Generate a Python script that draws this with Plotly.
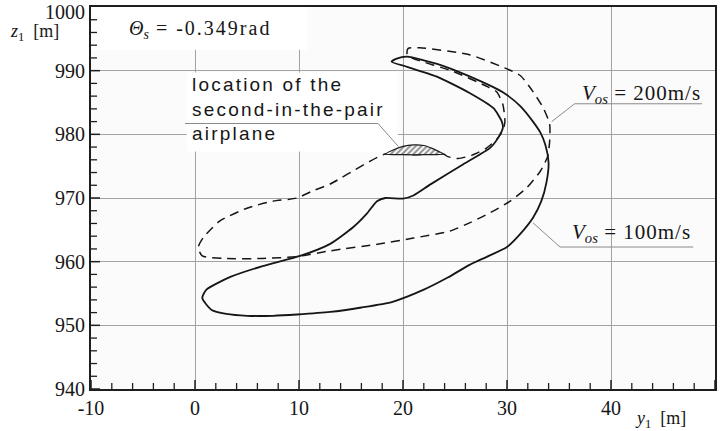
import plotly.graph_objects as go

# Boundary for V_os = 100 m/s (solid), closed contour in (y1, z1)
solid_y1 = [0.7, 1.6, 3.0, 5.0, 7.5, 9.8, 13.0, 16.0, 19.0, 22.0, 24.3, 26.4, 28.1,
            30.0, 31.3, 32.5, 33.3, 33.8, 34.0, 33.7, 33.2, 32.5, 31.3, 29.6, 26.4,
            23.2, 20.4, 19.4, 18.9, 20.4, 23.2, 26.4, 28.7, 29.5, 29.6, 29.2, 28.4,
            25.8, 22.6, 21.0, 20.0, 18.3, 17.5, 16.5, 15.2, 13.0, 10.1, 6.5, 3.4,
            1.1, 0.7]
solid_z1 = [954.3, 952.4, 951.8, 951.5, 951.5, 951.7, 952.1, 952.8, 953.7, 955.6,
            957.5, 959.5, 960.8, 962.3, 964.4, 966.9, 969.5, 972.5, 975.5, 978.3,
            980.3, 982.0, 984.4, 986.6, 989.1, 991.1, 992.2, 991.9, 991.4, 990.6,
            989.1, 986.5, 984.1, 982.0, 981.0, 979.6, 977.9, 975.3, 972.1, 970.4,
            969.9, 970.0, 969.5, 967.5, 965.4, 962.8, 960.9, 959.3, 957.6, 955.6,
            954.3]

# Boundary for V_os = 200 m/s (dashed), closed contour in (y1, z1)
dashed_y1 = [18.3, 16.2, 13.0, 11.3, 9.8, 7.5, 5.0, 2.4, 0.8, 0.3, 0.7, 2.7, 6.5,
             9.8, 13.0, 17.8, 21.0, 24.5, 26.4, 28.4, 30.3, 31.9, 33.2, 33.9, 34.1,
             34.1, 33.5, 32.5, 31.3, 30.1, 26.4, 21.6, 20.5, 20.4, 21.0, 24.8, 28.1,
             29.0, 29.6, 29.8, 29.6, 29.0, 28.0, 26.6, 25.3, 24.3, 23.9, 21.0, 18.3]
dashed_z1 = [976.9, 975.2, 972.2, 971.1, 970.0, 969.5, 968.4, 966.4, 963.8, 962.2,
             960.9, 960.5, 960.5, 960.8, 961.7, 962.8, 963.7, 964.8, 966.1, 967.7,
             969.5, 971.6, 974.2, 976.5, 978.9, 981.6, 984.1, 986.7, 989.2, 990.2,
             992.5, 993.6, 993.5, 992.5, 991.9, 989.9, 987.5, 986.7, 984.7, 982.0,
             980.6, 979.2, 977.8, 976.7, 976.2, 976.5, 976.9, 976.8, 976.9]

# Hatched zone: location of the second airplane of the pair
zone_y1 = [18.3, 19.0, 20.0, 21.0, 22.0, 22.8, 23.5, 23.9, 22.0, 20.0, 18.3]
zone_z1 = [976.9, 977.5, 978.1, 978.35, 978.25, 977.8, 977.25, 976.9, 976.8, 976.8, 976.9]

x_range = [-10, 50]
y_range = [940, 1000]
x_ticks = [-10, 0, 10, 20, 30, 40, 50]
x_labels = ["-10", "0", "10", "20", "30", "40", "50"]
x_minor = [v for v in range(-10, 51, 2) if v % 10]
y_ticks = [940, 950, 960, 970, 980, 990]
y_labels = ["940", "950", "960", "970", "980", "990"]
y_minor = [v for v in range(940, 1001, 2) if v % 10]

SERIF = "Liberation Serif, Times New Roman, serif"
SANS = "Liberation Sans, Arial, sans-serif"
INK = "#161616"
LEAD = "#8a8a8a"
AXIS = "#1e1e1e"

fig = go.Figure()

fig.add_trace(go.Scatter(
    x=dashed_y1, y=dashed_z1, mode="lines",
    line=dict(color=INK, width=1.5, dash="9px,6px", shape="spline", smoothing=0.6),
    hoverinfo="skip", showlegend=False))

fig.add_trace(go.Scatter(
    x=solid_y1, y=solid_z1, mode="lines",
    line=dict(color=INK, width=1.8, shape="spline", smoothing=0.6),
    hoverinfo="skip", showlegend=False))

fig.add_trace(go.Scatter(
    x=zone_y1, y=zone_z1, mode="lines", fill="toself", fillcolor="white",
    fillpattern=dict(shape="/", fgcolor="#1e1e1e", bgcolor="white", size=4, solidity=0.5),
    line=dict(color="#1e1e1e", width=1.2, shape="spline", smoothing=0.6),
    hoverinfo="skip", showlegend=False))

# white label panels that mask the grid behind the text
fig.add_shape(type="rect", x0=-10, x1=10.8, y0=993.3, y1=1000, layer="between",
              line=dict(width=0), fillcolor="white")
fig.add_shape(type="rect", x0=-0.8, x1=19.5, y0=977.3, y1=989.7, layer="between",
              line=dict(width=0), fillcolor="white")

# small inward tick marks along the left and bottom axes (pixel length)
for v in x_minor:
    fig.add_shape(type="line", xref="x", yref="paper", ysizemode="pixel", yanchor=0,
                  x0=v, x1=v, y0=0, y1=6, line=dict(color=AXIS, width=1.3))
for v in y_minor:
    fig.add_shape(type="line", xref="paper", yref="y", xsizemode="pixel", xanchor=0,
                  x0=0, x1=6, y0=v, y1=v, line=dict(color=AXIS, width=1.3))
for v in x_ticks:
    fig.add_shape(type="line", xref="x", yref="paper", ysizemode="pixel", yanchor=0,
                  x0=v, x1=v, y0=0, y1=9, line=dict(color=AXIS, width=1.5))
for v in y_ticks:
    fig.add_shape(type="line", xref="paper", yref="y", xsizemode="pixel", xanchor=0,
                  x0=0, x1=9, y0=v, y1=v, line=dict(color=AXIS, width=1.5))

# leader lines
for x0, y0, x1, y1 in [
    (-0.96, 981.7, 17.6, 981.7), (17.6, 981.7, 19.55, 978.1),
    (36.5, 984.8, 48.75, 984.8), (36.5, 984.8, 34.3, 982.0),
    (35.1, 962.3, 47.9, 962.3), (35.1, 962.3, 32.5, 966.1),
]:
    fig.add_shape(type="line", x0=x0, y0=y0, x1=x1, y1=y1,
                  line=dict(color=LEAD, width=1))

fig.add_annotation(
    x=-6.5, y=996.4, xanchor="left", yanchor="middle", showarrow=False,
    text=('<i>Θ</i><sub><i>s</i></sub>'
          '<span style="letter-spacing:2px"> = -0.349rad</span>'),
    font=dict(family=SERIF, size=20, color=INK))

fig.add_annotation(
    x=-0.5, y=984.0, xanchor="left", yanchor="middle", align="left", showarrow=False,
    text=('<span style="letter-spacing:2.2px">location of the</span><br>'
          '<span style="letter-spacing:2.2px">second-in-the-pair</span><br>'
          '<span style="letter-spacing:2.2px">airplane</span>'),
    font=dict(family=SANS, size=19, color=INK))

fig.add_annotation(
    x=37.0, y=986.4, xanchor="left", yanchor="middle", showarrow=False,
    text='<i>V</i><sub><i>os</i></sub><span style="letter-spacing:1px"> = 200m/s</span>',
    font=dict(family=SERIF, size=21, color=INK))

fig.add_annotation(
    x=36.1, y=964.5, xanchor="left", yanchor="middle", showarrow=False,
    text='<i>V</i><sub><i>os</i></sub><span style="letter-spacing:1px"> = 100m/s</span>',
    font=dict(family=SERIF, size=21, color=INK))

# axis titles and the top tick label
fig.add_annotation(
    xref="paper", yref="paper", x=-0.09, y=0.932, xanchor="center", yanchor="middle",
    showarrow=False, text='<i>z</i><sub>1</sub>  [m]',
    font=dict(family=SERIF, size=18, color=INK))
fig.add_annotation(
    xref="paper", yref="paper", x=0.912, y=-0.08, xanchor="center", yanchor="middle",
    showarrow=False, text='<i>y</i><sub>1</sub>  [m]',
    font=dict(family=SERIF, size=18, color=INK))
fig.add_annotation(
    xref="paper", yref="y", x=0, y=1000, xanchor="right", yanchor="middle",
    xshift=-4, yshift=-5, showarrow=False, text="1000",
    font=dict(family=SERIF, size=20, color=INK))

axis_common = dict(
    showgrid=True, gridcolor="#a3a3a3", gridwidth=1,
    showline=True, linecolor=AXIS, linewidth=2, mirror=True,
    ticks="", tickfont=dict(family=SERIF, size=20, color=INK),
    zeroline=False,
)

fig.update_layout(
    width=724, height=431,
    margin=dict(l=91, r=9, t=5, b=42),
    paper_bgcolor="white", plot_bgcolor="#fbfbfb",
    showlegend=False,
    xaxis=dict(range=x_range, tickmode="array", tickvals=x_ticks, ticktext=x_labels,
               **axis_common),
    yaxis=dict(range=y_range, tickmode="array", tickvals=y_ticks, ticktext=y_labels,
               **axis_common),
)

fig.write_html("out.html")
